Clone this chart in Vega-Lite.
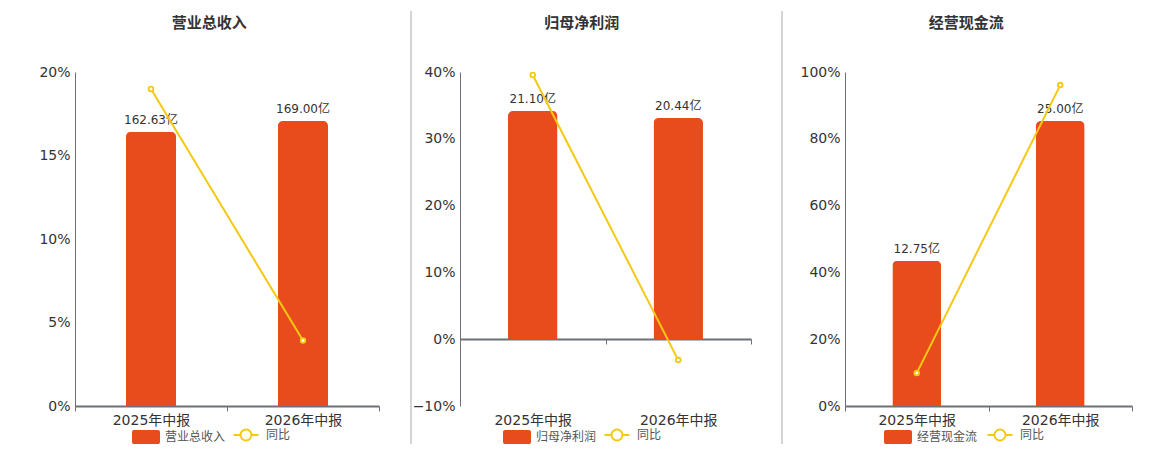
{
  "$schema": "https://vega.github.io/schema/vega-lite/v6.json",
  "padding": {"left": 38, "top": 10, "right": 5, "bottom": 2},
  "background": "white",
  "spacing": 0,
  "datasets": {
    "rev": [
      {"period": "2025年中报", "value": 162.63, "label": "162.63亿", "yoy": 0.1898},
      {"period": "2026年中报", "value": 169.0, "label": "169.00亿", "yoy": 0.0392}
    ],
    "profit": [
      {"period": "2025年中报", "value": 21.1, "label": "21.10亿", "yoy": 0.3955},
      {"period": "2026年中报", "value": 20.44, "label": "20.44亿", "yoy": -0.0313}
    ],
    "cash": [
      {"period": "2025年中报", "value": 12.75, "label": "12.75亿", "yoy": 0.0985},
      {"period": "2026年中报", "value": 25.0, "label": "25.00亿", "yoy": 0.9608}
    ]
  },
  "hconcat": [
    {
      "title": "营业总收入",
      "width": 304,
      "height": 334,
      "data": {"name": "rev"},
      "encoding": {
        "x": {"field": "period", "type": "nominal", "sort": null, "title": null,
          "scale": {"paddingInner": 0, "paddingOuter": 0}}
      },
      "layer": [
        {
          "encoding": {
            "y": {"field": "value", "type": "quantitative", "axis": null, "scale": {"domain": [0, 198], "nice": false}}
          },
          "layer": [
            {
              "mark": {"type": "bar", "width": {"band": 0.33}, "cornerRadiusTopLeft": 5, "cornerRadiusTopRight": 5},
              "encoding": {"fill": {"datum": "营业总收入", "type": "nominal", "scale": {"range": ["#E84C1D"]},
                "legend": {"title": null, "orient": "none", "legendX": 61, "legendY": 355, "symbolType": "M-1.7,-1H1.7A0.3,0.3 0 0 1 2,-0.7V0.7A0.3,0.3 0 0 1 1.7,1H-1.7A0.3,0.3 0 0 1 -2,0.7V-0.7A0.3,0.3 0 0 1 -1.7,-1Z", "symbolSize": 196, "labelOffset": 11}}}
            },
            {
              "mark": {"type": "text", "dy": -12, "fontSize": 12, "color": "#333"},
              "encoding": {"text": {"field": "label"}}
            }
          ]
        },
        {
          "encoding": {
            "y": {"field": "yoy", "type": "quantitative", "title": null,
              "scale": {"domain": [0, 0.2], "nice": false},
              "axis": {"orient": "left", "values": [0, 0.05, 0.1, 0.15, 0.2], "format": ".0%"}},
            "stroke": {"datum": "同比", "type": "nominal", "scale": {"range": ["#F4C911"]},
              "legend": {"title": null, "orient": "none", "legendX": 163, "legendY": 355, "symbolType": "M-2.5,0H-1.1M1.1,0H2.5M1.1,0A1.1,1.1 0 1 1 -1.1,0A1.1,1.1 0 1 1 1.1,0", "symbolSize": 100, "symbolStrokeWidth": 2, "symbolFillColor": "white", "labelOffset": 14}}
          },
          "layer": [
            {"mark": {"type": "line", "strokeWidth": 2}},
            {"mark": {"type": "point", "filled": true, "fill": "white", "size": 22, "strokeWidth": 1.8, "opacity": 1}}
          ]
        }
      ],
      "resolve": {"scale": {"y": "independent"}}
    },
    {
      "width": 31,
      "height": 334,
      "data": {"values": [{}]},
      "mark": {"type": "rule", "color": "#aaaaaa", "strokeWidth": 1, "clip": false},
      "encoding": {
        "x": {"datum": 31, "type": "quantitative", "scale": {"domain": [0, 31]}, "axis": null},
        "y": {"datum": 395, "type": "quantitative", "scale": {"domain": [0, 334], "nice": false}, "axis": null},
        "y2": {"datum": -38}
      }
    },
    {
      "title": "归母净利润",
      "width": 291,
      "height": 334,
      "data": {"name": "profit"},
      "encoding": {
        "x": {"field": "period", "type": "nominal", "sort": null, "title": null,
          "scale": {"paddingInner": 0, "paddingOuter": 0}}
      },
      "layer": [
        {
          "encoding": {
            "x": {"field": "period", "type": "nominal", "sort": null, "title": null,
              "axis": {"orient": "bottom", "labels": false, "offset": -67, "grid": false}},
            "y": {"field": "value", "type": "quantitative", "axis": null, "scale": {"domain": [-6.18, 24.7], "nice": false}}
          },
          "layer": [
            {
              "mark": {"type": "bar", "width": {"band": 0.34}, "cornerRadiusTopLeft": 5, "cornerRadiusTopRight": 5},
              "encoding": {"fill": {"datum": "归母净利润", "type": "nominal", "scale": {"range": ["#E84C1D"]},
                "legend": {"title": null, "orient": "none", "legendX": 47, "legendY": 355, "symbolType": "M-1.7,-1H1.7A0.3,0.3 0 0 1 2,-0.7V0.7A0.3,0.3 0 0 1 1.7,1H-1.7A0.3,0.3 0 0 1 -2,0.7V-0.7A0.3,0.3 0 0 1 -1.7,-1Z", "symbolSize": 196, "labelOffset": 11}}}
            },
            {
              "mark": {"type": "text", "dy": -12, "fontSize": 12, "color": "#333"},
              "encoding": {"text": {"field": "label"}}
            }
          ]
        },
        {
          "encoding": {
            "x": {"field": "period", "type": "nominal", "sort": null, "title": null,
              "axis": {"orient": "bottom", "domain": false, "ticks": false, "labelPadding": 7}},
            "y": {"field": "yoy", "type": "quantitative", "title": null,
              "scale": {"domain": [-0.1, 0.4], "nice": false},
              "axis": {"orient": "left", "values": [-0.1, 0, 0.1, 0.2, 0.3, 0.4], "format": ".0%"}},
            "stroke": {"datum": "同比", "type": "nominal", "scale": {"range": ["#F4C911"]},
              "legend": {"title": null, "orient": "none", "legendX": 149, "legendY": 355, "symbolType": "M-2.5,0H-1.1M1.1,0H2.5M1.1,0A1.1,1.1 0 1 1 -1.1,0A1.1,1.1 0 1 1 1.1,0", "symbolSize": 100, "symbolStrokeWidth": 2, "symbolFillColor": "white", "labelOffset": 14}}
          },
          "layer": [
            {"mark": {"type": "line", "strokeWidth": 2}},
            {"mark": {"type": "point", "filled": true, "fill": "white", "size": 22, "strokeWidth": 1.8, "opacity": 1}}
          ]
        }
      ],
      "resolve": {"scale": {"y": "independent"}, "axis": {"x": "independent"}}
    },
    {
      "width": 47,
      "height": 334,
      "data": {"values": [{}]},
      "mark": {"type": "rule", "color": "#aaaaaa", "strokeWidth": 1, "clip": false},
      "encoding": {
        "x": {"datum": 30, "type": "quantitative", "scale": {"domain": [0, 47]}, "axis": null},
        "y": {"datum": 395, "type": "quantitative", "scale": {"domain": [0, 334], "nice": false}, "axis": null},
        "y2": {"datum": -38}
      }
    },
    {
      "title": "经营现金流",
      "width": 287,
      "height": 334,
      "data": {"name": "cash"},
      "encoding": {
        "x": {"field": "period", "type": "nominal", "sort": null, "title": null,
          "scale": {"paddingInner": 0, "paddingOuter": 0}}
      },
      "layer": [
        {
          "encoding": {
            "y": {"field": "value", "type": "quantitative", "axis": null, "scale": {"domain": [0, 29.3], "nice": false}}
          },
          "layer": [
            {
              "mark": {"type": "bar", "width": {"band": 0.34}, "cornerRadiusTopLeft": 5, "cornerRadiusTopRight": 5},
              "encoding": {"fill": {"datum": "经营现金流", "type": "nominal", "scale": {"range": ["#E84C1D"]},
                "legend": {"title": null, "orient": "none", "legendX": 43, "legendY": 355, "symbolType": "M-1.7,-1H1.7A0.3,0.3 0 0 1 2,-0.7V0.7A0.3,0.3 0 0 1 1.7,1H-1.7A0.3,0.3 0 0 1 -2,0.7V-0.7A0.3,0.3 0 0 1 -1.7,-1Z", "symbolSize": 196, "labelOffset": 11}}}
            },
            {
              "mark": {"type": "text", "dy": -12, "fontSize": 12, "color": "#333"},
              "encoding": {"text": {"field": "label"}}
            }
          ]
        },
        {
          "encoding": {
            "y": {"field": "yoy", "type": "quantitative", "title": null,
              "scale": {"domain": [0, 1], "nice": false},
              "axis": {"orient": "left", "values": [0, 0.2, 0.4, 0.6, 0.8, 1], "format": ".0%"}},
            "stroke": {"datum": "同比", "type": "nominal", "scale": {"range": ["#F4C911"]},
              "legend": {"title": null, "orient": "none", "legendX": 147, "legendY": 355, "symbolType": "M-2.5,0H-1.1M1.1,0H2.5M1.1,0A1.1,1.1 0 1 1 -1.1,0A1.1,1.1 0 1 1 1.1,0", "symbolSize": 100, "symbolStrokeWidth": 2, "symbolFillColor": "white", "labelOffset": 14}}
          },
          "layer": [
            {"mark": {"type": "line", "strokeWidth": 2}},
            {"mark": {"type": "point", "filled": true, "fill": "white", "size": 22, "strokeWidth": 1.8, "opacity": 1}}
          ]
        }
      ],
      "resolve": {"scale": {"y": "independent"}}
    }
  ],
  "resolve": {"scale": {"fill": "independent", "stroke": "independent", "x": "independent"}, "legend": {"fill": "independent", "stroke": "independent"}},
  "config": {
    "font": "DejaVu Sans, Noto Sans CJK SC, sans-serif",
    "view": {"stroke": null},
    "title": {"fontSize": 15, "fontWeight": "bold", "color": "#333333", "anchor": "middle", "frame": "bounds", "offset": 34},
    "axisY": {"ticks": false, "labelPadding": 5, "labelFontSize": 14, "labelColor": "#333333", "domainColor": "#6E7079", "domainWidth": 1, "gridColor": "#E0E6F1", "gridWidth": 1},
    "axisX": {"tickBand": "extent", "labelAngle": 0, "labelFontSize": 14, "labelColor": "#333333", "labelPadding": 2, "domainColor": "#6E7079", "domainWidth": 2, "tickColor": "#6E7079", "tickSize": 5, "grid": false},
    "legend": {"direction": "horizontal", "labelFontSize": 12, "labelColor": "#555555", "padding": 2}
  }
}
